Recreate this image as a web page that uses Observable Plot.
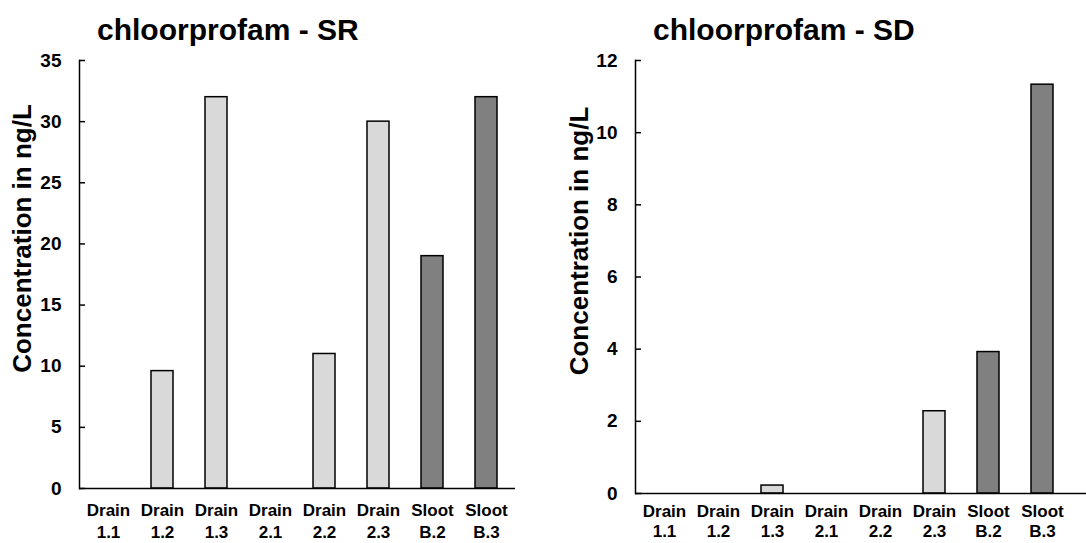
<!DOCTYPE html>
<html><head><meta charset="utf-8">
<script src="https://cdn.jsdelivr.net/npm/d3@7"></script>
<script src="https://cdn.jsdelivr.net/npm/@observablehq/plot@0.6"></script>
<style>
body{margin:0;background:#fff;font-family:"Liberation Sans",Arial,sans-serif;}
#wrap{display:flex;width:1086px;height:543px;overflow:hidden;}
.panel{width:543px;height:543px;position:relative;flex:none;}
.title{position:absolute;top:15px;font-weight:bold;font-size:30px;line-height:1;white-space:nowrap;color:#000;}
.panel svg{position:absolute;left:0;top:50px;overflow:visible;}
</style></head><body><div id="wrap"></div>
<script>
const categories = ["Drain 1.1","Drain 1.2","Drain 1.3","Drain 2.1","Drain 2.2","Drain 2.3","Sloot B.2","Sloot B.3"];
const types = ["Drain","Drain","Drain","Drain","Drain","Drain","Sloot","Sloot"];
const srValues = [0, 9.6, 32, 0, 11, 30, 19, 32];
const sdValues = [0, 0, 0.22, 0, 0, 2.28, 3.92, 11.33];
const srTicks = [0, 5, 10, 15, 20, 25, 30, 35];
const sdTicks = [0, 2, 4, 6, 8, 10, 12];
const titles = ["chloorprofam - SR", "chloorprofam - SD"];
const yLabel = "Concentration in ng/L";
const typeColors = ["#d9d9d9", "#808080"];

function chart(cfg) {
  const data = categories.map((c, i) => ({cat: c, type: types[i], v: cfg.values[i]}));
  const height = 493;
  const innerW = 543 - cfg.marginLeft - cfg.marginRight;
  const svg = Plot.plot({
    width: 543, height,
    marginTop: cfg.marginTop, marginBottom: cfg.marginBottom,
    marginLeft: cfg.marginLeft, marginRight: cfg.marginRight,
    style: {fontFamily: "'Liberation Sans', Arial, sans-serif", fontWeight: "bold", color: "#000", background: "#fff", overflow: "visible"},
    x: {domain: categories, range: cfg.xRange, paddingInner: 0.6, paddingOuter: 0.3, label: null},
    y: {domain: [0, cfg.ticks[cfg.ticks.length - 1]], label: null},
    color: {domain: ["Drain", "Sloot"], range: typeColors},
    marks: [
      Plot.barY(data.filter(d => d.v > 0), {x: "cat", y: "v", fill: "type", stroke: "#000", strokeWidth: 1.5}),
      Plot.ruleY([0], {stroke: "#000", strokeWidth: 1.5}),
      Plot.frame({anchor: "left", stroke: "#000", strokeWidth: 1.5}),
      Plot.tickY(cfg.ticks, {y: d => d, insetRight: innerW - 6, stroke: "#000", strokeWidth: 1.5}),
      Plot.axisY({ticks: cfg.ticks, tickSize: 0, tickPadding: 18, fontSize: 19, label: null}),
      Plot.axisX({tickSize: 0, tickPadding: cfg.xPad, fontSize: 17, lineHeight: cfg.xLine, tickFormat: d => d.replace(" ", "\n"), label: null}),
      Plot.text([yLabel], {frameAnchor: "left", textAnchor: "middle", dx: cfg.labelDx, dy: -36, rotate: -90, fontSize: 26, fontWeight: "bold", fill: "#000"})
    ]
  });
  const panel = document.createElement("div");
  panel.className = "panel";
  const t = document.createElement("div");
  t.className = "title";
  t.style.left = cfg.titleLeft + "px";
  t.textContent = cfg.title;
  panel.appendChild(t);
  panel.appendChild(svg);
  return panel;
}

const wrap = document.getElementById("wrap");
wrap.appendChild(chart({title: titles[0], values: srValues, ticks: srTicks, marginTop: 10, marginBottom: 55, marginLeft: 79, marginRight: 28, xRange: [79, 515], titleLeft: 97, labelDx: -57, xPad: 12, xLine: 1.28}));
wrap.appendChild(chart({title: titles[1], values: sdValues, ticks: sdTicks, marginTop: 10, marginBottom: 50, marginLeft: 92, marginRight: 0, xRange: [92, 528], titleLeft: 110, labelDx: -56, xPad: 9, xLine: 1.2}));
</script></body></html>
